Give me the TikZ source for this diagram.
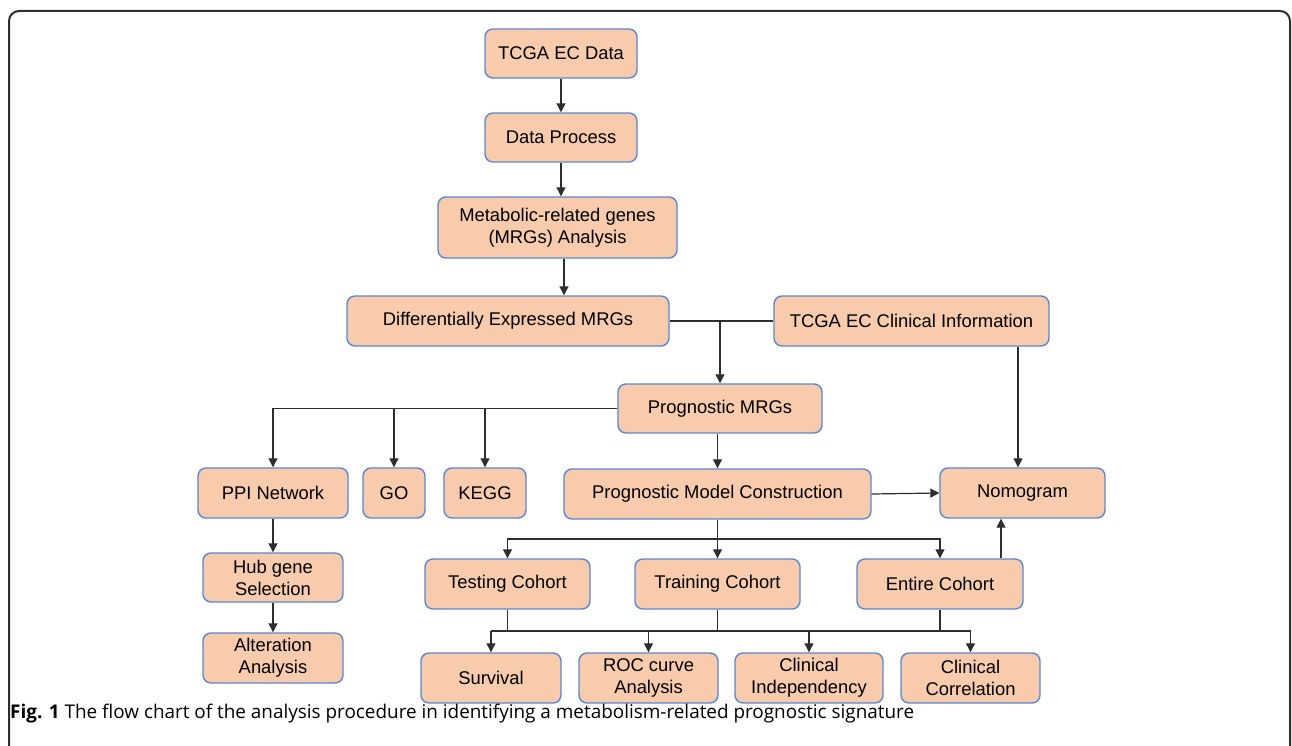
\documentclass[tikz,border=0pt]{standalone}
\usepackage{fontspec}
\setmainfont{Liberation Sans}
\newfontfamily\capfont{Open Sans}
\usetikzlibrary{arrows.meta}
\definecolor{boxfill}{HTML}{F8CBAD}
\definecolor{boxline}{HTML}{5A86D4}
\definecolor{lnk}{HTML}{2E2E2E}
\begin{document}
\begin{tikzpicture}[x=1pt,y=-1pt,
  box/.style={draw=boxline,fill=boxfill,line width=1.4pt,rounded corners=8pt,
    inner sep=0pt,align=center,font=\fontsize{18.4}{22}\selectfont,text=black},
  arr/.style={draw=lnk,line width=1.2pt,-{Triangle[length=9pt,width=9pt]}},
  lin/.style={draw=lnk,line width=1.2pt}]
\useasboundingbox (0,0) rectangle (1292,746);
\draw[line width=2pt,draw=lnk,rounded corners=10pt] (9,746) -- (9,11) -- (1290,11) -- (1290,746);
% nodes
\node[box,minimum width=152pt,minimum height=49pt] (tcga) at (561,53.5) {TCGA EC Data};
\node[box,minimum width=152pt,minimum height=49pt] (proc) at (561,137.5) {Data Process};
\node[box,minimum width=239pt,minimum height=61pt] (mrg) at (557.5,227.5) {Metabolic-related genes\\(MRGs) Analysis};
\node[box,minimum width=322pt,minimum height=50pt] (dem) at (508,321) {Differentially Expressed MRGs};
\node[box,minimum width=275pt,minimum height=50pt] (clin) at (911.5,321) {TCGA EC Clinical Information};
\node[box,minimum width=204pt,minimum height=49pt] (prog) at (720,408.5) {Prognostic MRGs};
\node[box,minimum width=150pt,minimum height=50pt] (ppi) at (273,493) {PPI Network};
\node[box,minimum width=62pt,minimum height=50pt] (go) at (394,493) {GO};
\node[box,minimum width=82pt,minimum height=50pt] (kegg) at (485,493) {KEGG};
\node[box,minimum width=307pt,minimum height=50pt] (model) at (717.5,494) {Prognostic Model Construction};
\node[box,minimum width=165pt,minimum height=50pt] (nomo) at (1022.5,493) {Nomogram};
\node[box,minimum width=140pt,minimum height=49pt] (hub) at (273,577.5) {Hub gene\\Selection};
\node[box,minimum width=140pt,minimum height=50pt] (alt) at (273,658) {Alteration\\Analysis};
\node[box,minimum width=165pt,minimum height=50pt] (test) at (507.5,584) {Testing Cohort};
\node[box,minimum width=165pt,minimum height=50pt] (train) at (717.5,584) {Training Cohort};
\node[box,minimum width=166pt,minimum height=50pt] (entire) at (940,584) {Entire Cohort};
\node[box,minimum width=140pt,minimum height=50pt] (surv) at (491,678) {Survival};
\node[box,minimum width=139pt,minimum height=50pt] (roc) at (648.5,678) {ROC curve\\Analysis};
\node[box,minimum width=148pt,minimum height=50pt] (indep) at (809,678) {Clinical\\Independency};
\node[box,minimum width=139pt,minimum height=50pt] (corr) at (970.5,678) {Clinical\\Correlation};
% connectors
\draw[arr] (tcga.south) -- (proc.north);
\draw[arr] (proc.south) -- (proc.south |- mrg.north);
\draw[arr] ([xshift=6.5pt]mrg.south) -- ([xshift=6.5pt]mrg.south |- dem.north);
\draw[lin] (dem.east) -- (clin.west);
\draw[arr] (prog.north |- dem.east) -- (prog.north);
\draw[arr] (prog.west) -| (ppi.north);
\draw[arr] (go.north |- prog.west) -- (go.north);
\draw[arr] (kegg.north |- prog.west) -- (kegg.north);
\draw[arr] (model.north |- prog.south) -- (model.north);
\draw[arr] ([xshift=-4.5pt]nomo.north |- clin.south) -- ([xshift=-4.5pt]nomo.north);
\draw[arr] (model.east) -- (nomo.west);
\draw[arr] ([xshift=61pt]entire.north) -- ([xshift=61pt]entire.north |- nomo.south);
\draw[arr] (ppi.south) -- (hub.north);
\draw[arr] (hub.south) -- (alt.north);
\coordinate (b1) at (717.5,539);
\coordinate (b2) at (717.5,631);
\draw[arr] (model.south) -- (train.north);
\draw[arr] (b1) -| (test.north);
\draw[arr] (b1) -| (entire.north);
\draw[lin] (test.south) -- (test.south |- b2);
\draw[lin] (train.south) -- (train.south |- b2);
\draw[lin] (entire.south) -- (entire.south |- b2);
\draw[lin] (surv.north |- b2) -- (corr.north |- b2);
\draw[arr] (surv.north |- b2) -- (surv.north);
\draw[arr] (roc.north |- b2) -- (roc.north);
\draw[arr] (indep.north |- b2) -- (indep.north);
\draw[arr] (corr.north |- b2) -- (corr.north);
% caption
\node[anchor=west,inner sep=0pt,font=\capfont\fontsize{18.9}{22}\selectfont] (cap) at (10,714)
  {\textbf{Fig. 1} The flow chart of the analysis procedure in identifying a metabolism-related prognostic signature};
\end{tikzpicture}
\end{document}
